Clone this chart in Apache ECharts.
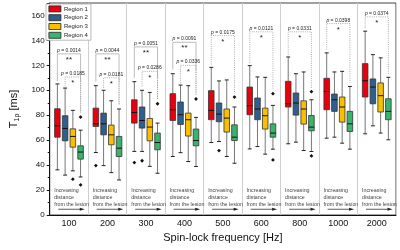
<!DOCTYPE html>
<html><head><meta charset="utf-8">
<script src="https://cdn.jsdelivr.net/npm/echarts@6/dist/echarts.min.js"></script>
<style>html,body{margin:0;padding:0;background:#fff}#c{width:400px;height:250px}</style>
</head><body><div id="c"></div>
<script>
// ---- data ----
const categories = ['100','200','300','400','500','600','800','1000','2000'];
const regionNames = ['Region 1','Region 2','Region 3','Region 4'];
const regionColors = ['#e8000e','#2f5f8f','#f8c000','#3cb36c'];
// [min, Q1, median, Q3, max] per category
const region1 = [[36.2,62.4,71.5,85.2,105.1],[50.1,71,73.1,85.7,103.7],[51,73.7,82.2,92.4,106.9],[46.9,75.8,84.4,97.3,113.3],[58.1,76.4,83.9,99.7,118.4],[53,80.4,87.6,102.6,119.8],[57.1,86.6,89.2,107.2,126.7],[61.6,84.4,99.1,109.6,130],[65.1,94.6,107.7,121.4,147.4]];
const region2 = [[32,59.5,69.4,79.6,101.8],[39.6,64.3,73.1,81.7,100],[51,69.7,75.8,86.6,100],[50,72.6,80.4,90.6,104.2],[58.9,74.8,80.9,89.8,107.5],[54.9,76.4,85,93.8,110.7],[58.4,80.1,89.8,97.8,113.3],[62.4,83.1,92.4,97,114.7],[71.5,89.2,102.6,109.1,128.6]];
const region3 = [[35.4,54.4,63,69.1,83.9],[34,56.3,64.3,72.1,91.6],[39,59.5,70.5,77.4,98.3],[42.9,63.3,76.4,81.7,103.7],[46.9,66.5,77.7,85,108.3],[48.8,68.9,79.6,85.7,110.4],[51.7,72.9,85,91.6,114.7],[57.6,74.5,86.6,94.6,115.2],[65.7,82.6,95.7,105.9,126]];
const region4 = [[30.5,44.8,50.5,55.5,68],[28.1,46.9,53.6,63,85],[33.5,52.3,58.1,65.7,73.7],[38.9,55.5,59.7,68.9,78.3],[41.5,59.7,62.4,72.3,86.6],[52.8,62.4,65.7,73.1,87.9],[50.9,67.5,70.5,79.8,92.4],[52.8,67,73.1,83.1,103.1],[60.3,76.4,83.1,93.2,110.4]];
// outliers: [categoryIndex, regionIndex, value]
const outliers = [[1,0,39.6],[2,0,42],[2,1,43.5],[4,1,51.7],[0,2,28.7],[0,3,78.5],[0,3,24.1],[2,3,89.2],[3,3,93],[4,3,94.6],[5,3,97.3],[5,3,44.2],[6,3,98.9],[6,3,47.4]];
// significance brackets (Region 1 vs Region 4)
const mainTop = [129.2,129.2,134.8,138.5,143.9,146.9,146.9,153.5,158.9];
const mainLeftEnd = [107.2,107,110,116.6,120.6,122,128.6,132.6,150];
const mainRightEnd = [82,88.4,92.4,96.5,97.3,100.5,101.8,105.9,112.5];
const mainP = ['0.0014','0.0044','0.0051','0.0091','0.0175','0.0121','0.0331','0.0398','0.0374'];
const mainStars = ['**','**','**','**','*','*','*','*','*'];
// second brackets (Region 2 vs Region 4), first four categories
const secondTop = [110.7,110,115.2,120];
const secondLeftEnd = [103.1,102,103.1,105.9];
const secondP = ['0.0185','0.0181','0.0286','0.0336'];
const secondStars = ['*','*','*','*'];
const noteLines = ['Increasing','distance','from the lesion'];

const regions = [region1, region2, region3, region4];
const FONT = 'Liberation Sans, Arial, sans-serif';

function place(api, cat, region) {
  const bw = api.size([1, 0])[0];
  const avail = bw * 0.8 - 2;
  const gap = avail / 4 * 0.3;
  const w = (avail - gap * 3) / 4;
  const c = api.coord([cat, 0])[0];
  return { cx: c + w / 2 - avail / 2 + region * (gap + w), w: w, bw: bw, c: c };
}

function boxRenderer(r) {
  return function (params, api) {
    const cat = api.value(0);
    const p = place(api, cat, r);
    const y = k => api.coord([cat, api.value(k)])[1];
    const yMin = y(1), yQ1 = y(2), yMed = y(3), yQ3 = y(4), yMax = y(5);
    const cx = p.cx, w = p.w, cw = w * 0.35;
    return { type: 'group', children: [
      { type: 'line', shape: { x1: cx, y1: yMax, x2: cx, y2: yQ3 }, style: { stroke: '#777', lineWidth: 1 } },
      { type: 'line', shape: { x1: cx, y1: yQ1, x2: cx, y2: yMin }, style: { stroke: '#777', lineWidth: 1 } },
      { type: 'line', shape: { x1: cx - cw, y1: yMax, x2: cx + cw, y2: yMax }, style: { stroke: '#222', lineWidth: 1 } },
      { type: 'line', shape: { x1: cx - cw, y1: yMin, x2: cx + cw, y2: yMin }, style: { stroke: '#222', lineWidth: 1 } },
      { type: 'rect', shape: { x: cx - w / 2, y: yQ3, width: w, height: yQ1 - yQ3 }, style: { fill: regionColors[r], stroke: '#333', lineWidth: 0.8 } },
      { type: 'line', shape: { x1: cx - w / 2, y1: yMed, x2: cx + w / 2, y2: yMed }, style: { stroke: '#111', lineWidth: 1 } }
    ]};
  };
}

const series = regions.map((data, r) => ({
  name: regionNames[r],
  type: 'custom',
  itemStyle: { color: regionColors[r] },
  renderItem: boxRenderer(r),
  encode: { x: 0, y: [1, 2, 3, 4, 5] },
  data: data.map((d, i) => [i].concat(d)),
  z: 3
}));

series.push({
  type: 'custom',
  name: 'outliers',
  renderItem: function (params, api) {
    const cat = api.value(0), r = api.value(1);
    const p = place(api, cat, r);
    const yy = api.coord([cat, api.value(2)])[1];
    const s = 1.9;
    return { type: 'polygon', shape: { points: [[p.cx, yy - s], [p.cx + s, yy], [p.cx, yy + s], [p.cx - s, yy]] }, style: { fill: '#111' } };
  },
  encode: { x: 0, y: 2 },
  data: outliers,
  z: 4
});

const brackets = [];
categories.forEach((c, i) => brackets.push({ cat: i, top: mainTop[i], le: mainLeftEnd[i], re: mainRightEnd[i], kind: mainStars[i] === '**' ? 0 : 1, p: mainP[i], s: mainStars[i] }));
secondTop.forEach((t, i) => brackets.push({ cat: i, top: t, le: secondLeftEnd[i], re: mainRightEnd[i], kind: 2, p: secondP[i], s: secondStars[i] }));

series.push({
  type: 'custom',
  name: 'brackets',
  renderItem: function (params, api) {
    const b = brackets[params.dataIndex];
    const cat = b.cat;
    const L = place(api, cat, b.kind === 2 ? 1 : 0).cx;
    const R = place(api, cat, 3).cx;
    const yt = api.coord([cat, b.top])[1], yl = api.coord([cat, b.le])[1], yr = api.coord([cat, b.re])[1];
    const dotted = { stroke: '#999', lineWidth: 0.8, lineDash: [1, 1.2], fill: null };
    const children = [];
    if (b.kind === 0) {
      children.push({ type: 'polyline', shape: { points: [[L, yl], [L, yt], [R, yt], [R, yl]] }, style: { stroke: '#bdbdbd', lineWidth: 1, fill: null } });
      children.push({ type: 'polyline', shape: { points: [[R, yl], [R, yr]] }, style: dotted });
    } else {
      children.push({ type: 'polyline', shape: { points: [[L, yl], [L, yt], [R, yt], [R, yr]] }, style: dotted });
    }
    const mx = (L + R) / 2;
    children.push({ type: 'text', x: mx, y: yt - 0.8, style: { text: '{i|p} = ' + b.p, align: 'center', verticalAlign: 'bottom', fontSize: 5, fontFamily: FONT, fill: '#222',
      rich: { i: { fontStyle: 'italic', fontSize: 5, fontFamily: FONT, fill: '#222' } } } });
    children.push({ type: 'text', x: mx, y: yt + 6, style: { text: b.s, align: 'center', verticalAlign: 'middle', fontSize: 8, fontFamily: FONT, fill: '#222' } });
    return { type: 'group', children: children };
  },
  encode: { x: 0, y: 1 },
  data: brackets.map(b => [b.cat, b.top]),
  z: 2
});

series.push({
  type: 'custom',
  name: 'notes',
  renderItem: function (params, api) {
    const cat = api.value(0);
    const p = place(api, cat, 0);
    const left = p.c - p.bw / 2;
    const ty = api.coord([cat, 22.3])[1];
    const ay = api.coord([cat, 4.6])[1];
    return { type: 'group', children: [
      { type: 'text', x: left + 4.5, y: ty, style: { text: noteLines.join('\n'), align: 'left', verticalAlign: 'top', fontSize: 5.3, lineHeight: 6.8, fontFamily: FONT, fill: '#444' } },
      { type: 'line', shape: { x1: left + 8.5, y1: ay, x2: left + 31, y2: ay }, style: { stroke: '#333', lineWidth: 0.8 } },
      { type: 'polygon', shape: { points: [[left + 30, ay - 1.5], [left + 35, ay], [left + 30, ay + 1.5]] }, style: { fill: '#222' } }
    ]};
  },
  encode: { x: 0, y: 1 },
  data: categories.map((c, i) => [i, 10]),
  z: 2
});

const chart = echarts.init(document.getElementById('c'), null, { renderer: 'canvas' });
chart.setOption({
  animation: false,
  backgroundColor: '#fff',
  textStyle: { fontFamily: FONT },
  grid: { left: 43, right: 4, top: 3, bottom: 35, show: true, borderColor: '#444', borderWidth: 1, backgroundColor: 'transparent' },
  legend: {
    orient: 'vertical', left: 46, top: 4, icon: 'rect', itemWidth: 12, itemHeight: 6, itemGap: 2,
    padding: [1.5, 3, 1.5, 2.5], borderColor: '#aaa', borderWidth: 0.8, backgroundColor: '#fff',
    textStyle: { fontSize: 6, color: '#222', fontFamily: FONT, padding: [0, 0, 0, -2] },
    data: regionNames.map((n, r) => ({ name: n, itemStyle: { color: regionColors[r], borderColor: '#222', borderWidth: 0.8 } }))
  },
  xAxis: {
    type: 'category', data: categories, boundaryGap: true,
    axisLine: { lineStyle: { color: '#111', width: 1 } },
    axisTick: { show: false },
    splitLine: { show: true, lineStyle: { color: '#cfcfcf', width: 1 } },
    axisLabel: { fontSize: 9, color: '#111', margin: 4, fontFamily: FONT },
    name: 'Spin-lock frequency [Hz]', nameLocation: 'middle', nameGap: 15,
    nameTextStyle: { fontSize: 11, color: '#111', fontFamily: FONT }
  },
  yAxis: {
    type: 'value', min: 0, max: 170, interval: 20,
    axisLine: { show: true, lineStyle: { color: '#111', width: 1 } },
    axisTick: { show: true, length: 3, lineStyle: { color: '#111' } },
    minorTick: { show: true, splitNumber: 2, length: 2, lineStyle: { color: '#111' } },
    splitLine: { show: false },
    axisLabel: { fontSize: 8, color: '#111', margin: 5, showMaxLabel: false, fontFamily: FONT },
    name: '{t|T}{s|1ρ}{t| [ms]}', nameLocation: 'middle', nameRotate: 90, nameGap: 27,
    nameTextStyle: { color: '#111', fontFamily: FONT, rich: {
      t: { fontSize: 11, lineHeight: 14, fontFamily: FONT, color: '#111' },
      s: { fontSize: 7, lineHeight: 8, verticalAlign: 'bottom', fontFamily: FONT, color: '#111' }
    } }
  },
  series: series
});
</script>
</body></html>
